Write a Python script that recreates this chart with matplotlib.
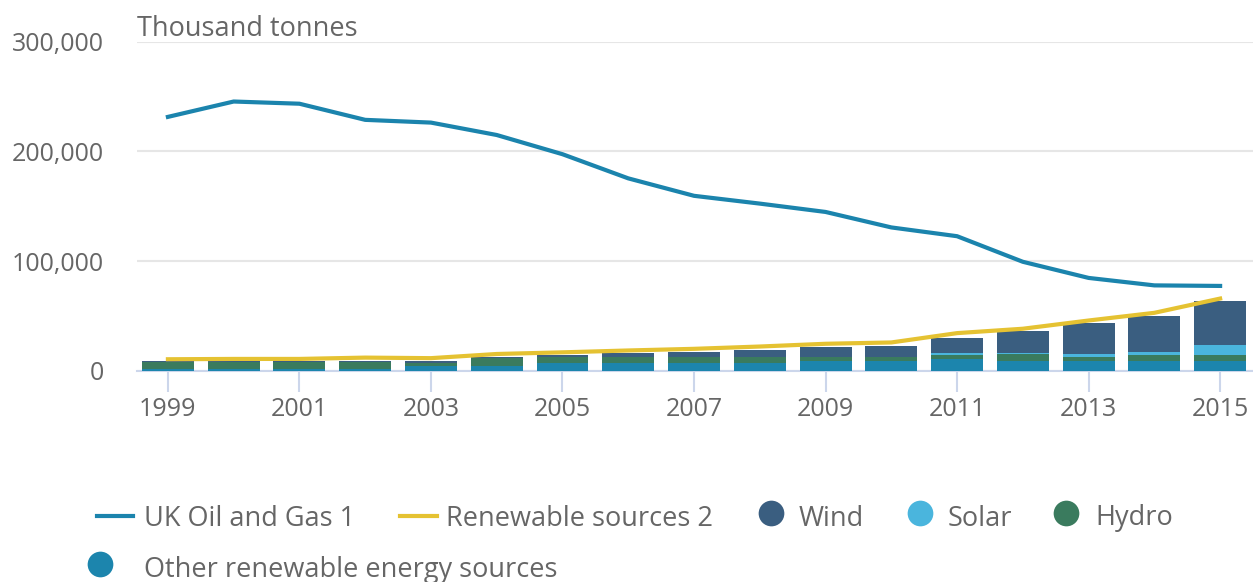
import matplotlib
matplotlib.use('Agg')
import matplotlib.pyplot as plt
from matplotlib.ticker import FuncFormatter
import numpy as np

plt.rcParams['font.family'] = ['Open Sans', 'DejaVu Sans']

# Production, thousand tonnes
years = np.arange(1999, 2016)
oil_gas = [231.5, 245.5, 243.5, 228.8, 226.3, 215, 197.5, 175.5, 159.6, 152.5,
           144.9, 130.8, 122.8, 99.5, 84.8, 78, 77.5]
renewables = [10.7, 11, 11, 12.2, 11.7, 15.5, 17, 18.7, 20.2, 22.3,
              24.8, 26, 34.5, 38.5, 46, 53, 66]

# Renewable breakdown (stacked bars)
other = [2, 2, 2, 2, 5, 5, 7, 7, 7, 7, 9, 9, 11, 9, 9, 9, 9]
hydro = [6, 6, 6, 6.5, 2.5, 7, 6, 6, 6, 6, 4, 4, 4, 6.5, 4, 6, 6]
solar = [0, 0, 0, 0, 0, 0, 0, 0, 0, 0, 0, 0, 1.5, 0.5, 2.5, 2.5, 9]
wind = [1, 1, 1, 0.5, 1.5, 1, 2, 3.5, 4.5, 6, 9, 10, 14, 20, 28.5, 32.5, 40]

c_oil = '#1b84ad'
c_ren = '#e5c232'
c_wind = '#3a5e80'
c_solar = '#4ab5dd'
c_hydro = '#3a7b5e'
c_other = '#1c85ad'
txt = '#666666'
axis_col = '#ccd6eb'
fs_tick = 18
fs_text = 19.5

W, H = 1253, 582
fig = plt.figure(figsize=(W / 100, H / 100), dpi=100)
ax = fig.add_axes([137 / W, 1 - 371 / H, (W - 137) / W, (371 - 41.7) / H])

k = 1000.0
oth = np.array(other) * k
hyd = np.array(hydro) * k
sol = np.array(solar) * k
wnd = np.array(wind) * k
bw = 0.79
ax.bar(years, oth, bw, color=c_other, zorder=2)
ax.bar(years, hyd, bw, bottom=oth, color=c_hydro, zorder=2)
ax.bar(years, sol, bw, bottom=oth + hyd, color=c_solar, zorder=2)
ax.bar(years, wnd, bw, bottom=oth + hyd + sol, color=c_wind, zorder=2)

ax.plot(years, np.array(oil_gas) * k, color=c_oil, lw=3, zorder=3,
        solid_joinstyle='round')
ax.plot(years, np.array(renewables) * k, color=c_ren, lw=3, zorder=3,
        solid_joinstyle='round')

ax.set_xlim(1998.53, 2015.5)
ax.set_ylim(0, 300000)
ax.set_yticks([0, 100000, 200000, 300000])
ax.yaxis.set_major_formatter(FuncFormatter(lambda v, p: '{:,.0f}'.format(v)))
ax.set_xticks(np.arange(1999, 2016, 2))

for s in ['top', 'right', 'left']:
    ax.spines[s].set_visible(False)
ax.spines['bottom'].set_color(axis_col)
ax.spines['bottom'].set_linewidth(1.5)
ax.spines['bottom'].set_zorder(1)
ax.yaxis.grid(True, color='#e6e6e6', lw=1.5, zorder=0)
ax.set_axisbelow(True)
ax.tick_params(axis='y', length=0, pad=24, labelsize=fs_tick, labelcolor=txt)
ax.tick_params(axis='x', length=15, width=1.5, color=axis_col, pad=4,
               labelsize=fs_tick, labelcolor=txt)
for lab in ax.get_yticklabels():
    lab.set_va('center_baseline')

fig.text(137 / W, 1 - 29 / H, 'Thousand tonnes', fontsize=fs_text, color=txt,
         va='center', ha='left')

# Legend drawn in pixel space underneath the plot
lg = fig.add_axes([0, 0, 1, 1])
lg.set_xlim(0, W)
lg.set_ylim(H, 0)
lg.axis('off')
row1, row2 = 516, 567
ty = 2.5   # nudge labels down to sit level with their keys
lg.plot([97, 133], [row1, row1], color=c_oil, lw=3)
lg.text(144, row1 + ty, 'UK Oil and Gas 1', fontsize=fs_text, color=txt, va='center')
lg.plot([400, 437], [row1, row1], color=c_ren, lw=3)
lg.text(446, row1 + ty, 'Renewable sources 2', fontsize=fs_text, color=txt, va='center')
for cx, tx, col, lab, ry in [(771, 799, c_wind, 'Wind', row1),
                             (920, 948, c_solar, 'Solar', row1),
                             (1066, 1095, c_hydro, 'Hydro', row1),
                             (100, 144, c_other, 'Other renewable energy sources', row2)]:
    lg.plot(cx, ry - 3, 'o', ms=18.5, color=col, mec='none')
    lg.text(tx, ry + ty, lab, fontsize=fs_text, color=txt, va='center')

fig.savefig('out.png', dpi=100)
